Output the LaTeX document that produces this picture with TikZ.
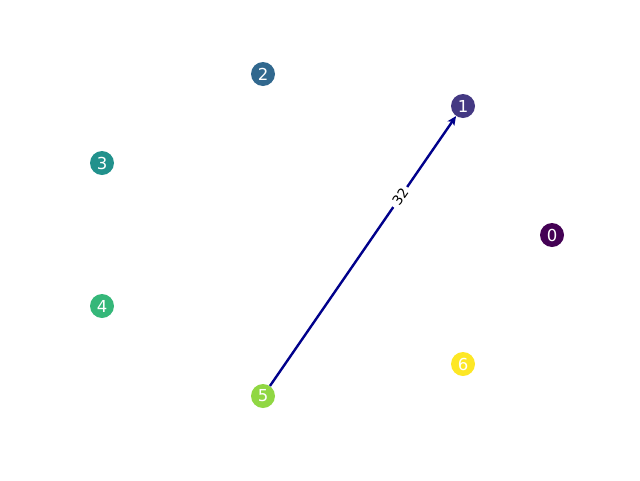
\documentclass[tikz,border=0pt]{standalone}
\usepackage{fontspec}
\setmainfont{DejaVu Sans}
\usetikzlibrary{arrows.meta}
\definecolor{c0}{HTML}{440154}
\definecolor{c1}{HTML}{443983}
\definecolor{c2}{HTML}{31688E}
\definecolor{c3}{HTML}{21918C}
\definecolor{c4}{HTML}{35B779}
\definecolor{c5}{HTML}{90D743}
\definecolor{c6}{HTML}{FDE725}
\definecolor{edgec}{HTML}{00008B}
\tikzset{
  vert/.style={circle, minimum size=24pt, inner sep=0pt, text=white, font=\fontsize{16.5pt}{16.5pt}\selectfont},
  conn/.style={draw=edgec, line width=2.4pt, -{Stealth[length=9pt,width=8pt,inset=2pt]}},
  elabel/.style={fill=white, inner xsep=3.5pt, inner ysep=2pt, font=\fontsize{13.5pt}{13.5pt}\selectfont, sloped}
}
\begin{document}
\begin{tikzpicture}[x=1pt,y=-1pt]
\useasboundingbox (0,0) rectangle (640,480);
\node[vert, fill=c0] (n0) at (552,235) {0};
\node[vert, fill=c1] (n1) at (463,106) {1};
\node[vert, fill=c2] (n2) at (263,74) {2};
\node[vert, fill=c3] (n3) at (102,163) {3};
\node[vert, fill=c4] (n4) at (102,306) {4};
\node[vert, fill=c5] (n5) at (263,396) {5};
\node[vert, fill=c6] (n6) at (463,364) {6};
\draw[conn] (n5) -- node[elabel, pos=0.7] (lab) {32} (n1);
\end{tikzpicture}
\end{document}
